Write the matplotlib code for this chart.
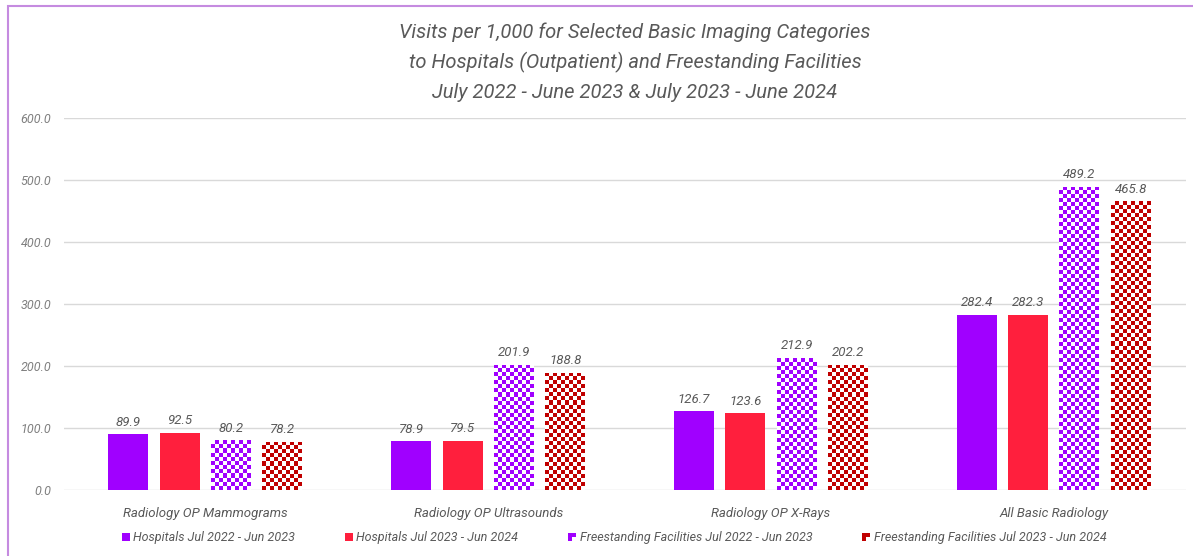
import numpy as np
import matplotlib
matplotlib.use('Agg')
import matplotlib.pyplot as plt
from matplotlib.patches import Rectangle
from matplotlib.legend_handler import HandlerBase

categories = ['Radiology OP Mammograms', 'Radiology OP Ultrasounds',
              'Radiology OP X-Rays', 'All Basic Radiology']
hosp_2223 = [89.9, 78.9, 126.7, 282.4]
hosp_2324 = [92.5, 79.5, 123.6, 282.3]
free_2223 = [80.2, 201.9, 212.9, 489.2]
free_2324 = [78.2, 188.8, 202.2, 465.8]
series_names = ['Hospitals Jul 2022 - Jun 2023', 'Hospitals Jul 2023 - Jun 2024',
                'Freestanding Facilities Jul 2022 - Jun 2023',
                'Freestanding Facilities Jul 2023 - Jun 2024']

PURPLE = '#A000FF'
RED = '#FF1F3D'
DARKRED = '#C00000'
GRAY = '#595959'

plt.rcParams['font.family'] = ['Roboto', 'DejaVu Sans']

W, H = 1193, 556
fig = plt.figure(figsize=(W / 100, H / 100), dpi=100)
ax_l, ax_r = 64, 1186
ax = fig.add_axes([ax_l / W, 1 - 490 / H, (ax_r - ax_l) / W, 372 / H])
group_px = 282.8
xmax = -0.5 + (ax_r - ax_l) / group_px
ax.set_xlim(-0.5, xmax)
ax.set_ylim(0, 600)

px_x = group_px          # pixels per x unit
px_y = 372 / 600.0       # pixels per y unit
step = 51.3 / group_px
width = 40 / group_px
x = np.arange(len(categories))


def checker(bars, color):
    # fill each bar with a clipped checkerboard image (~4px squares)
    for b in bars:
        x0, w, h = b.get_x(), b.get_width(), b.get_height()
        nx = max(1, int(round(w * px_x / 4)))
        ny = max(1, int(round(h * px_y / 4)))
        grid = (np.add.outer(np.arange(ny), np.arange(nx)) % 2)
        rgb = np.array(matplotlib.colors.to_rgb(color))
        img = np.ones((ny, nx, 3))
        img[grid == 0] = rgb
        im = ax.imshow(img, extent=(x0, x0 + w, 0, h), origin='lower',
                       interpolation='nearest', aspect='auto', zorder=3)
        im.set_clip_path(b)


data = [hosp_2223, hosp_2324, free_2223, free_2324]
colors = [PURPLE, RED, PURPLE, DARKRED]
handles = []
for i, vals in enumerate(data):
    pos = x + (i - 1.5) * step
    if i < 2:
        bars = ax.bar(pos, vals, width, color=colors[i], zorder=3)
    else:
        bars = ax.bar(pos, vals, width, color='white', zorder=2)
        checker(bars, colors[i])
    handles.append(bars)
    for b, v in zip(bars, vals):
        ax.text(b.get_x() + b.get_width() / 2, v + 9, f'{v:.1f}', ha='center',
                va='bottom', fontsize=9.5, color=GRAY, style='italic')

ax.set_aspect('auto')
ax.set_xlim(-0.5, xmax)
ax.set_ylim(0, 600)

for s in ax.spines.values():
    s.set_visible(False)
ax.set_yticks(np.arange(0, 601, 100))
ax.set_yticklabels([f'{v:.1f}' for v in np.arange(0, 601, 100)],
                   fontsize=9, color='#7F7F7F', style='italic')
ax.yaxis.grid(True, color='#D9D9D9', linewidth=1)
ax.set_axisbelow(True)
ax.tick_params(axis='y', length=0, pad=9)
ax.set_xticks(x)
ax.set_xticklabels(categories, fontsize=9.5, color=GRAY, style='italic')
ax.tick_params(axis='x', length=0, pad=12)


class CheckerHandler(HandlerBase):
    def __init__(self, color):
        super().__init__()
        self.color = color

    def create_artists(self, legend, orig_handle, xdescent, ydescent,
                       width, height, fontsize, trans):
        s = height * 0.45
        x0 = width - 2 * s
        y0 = (height - 2 * s) / 2
        arts = []
        for (i, j) in [(0, 0), (1, 1), (0, 1)]:
            arts.append(Rectangle((x0 + i * s, y0 + j * s), s, s,
                                  facecolor=self.color, edgecolor='none',
                                  transform=trans))
        return arts


class SquareHandler(HandlerBase):
    def __init__(self, color):
        super().__init__()
        self.color = color

    def create_artists(self, legend, orig_handle, xdescent, ydescent,
                       width, height, fontsize, trans):
        s = height * 0.9
        return [Rectangle((width - s, (height - s) / 2), s, s,
                          facecolor=self.color, edgecolor='none', transform=trans)]


hmap = {handles[0]: SquareHandler(PURPLE), handles[1]: SquareHandler(RED),
        handles[2]: CheckerHandler(PURPLE), handles[3]: CheckerHandler(DARKRED)}
leg = fig.legend(handles, series_names, loc='center', ncol=4,
                 bbox_to_anchor=(613 / W, 1 - 538 / H), frameon=False,
                 handler_map=hmap, handlelength=0.8, handletextpad=0.3,
                 columnspacing=3.8, prop={'size': 9, 'style': 'italic'})
for t in leg.get_texts():
    t.set_color(GRAY)

fig.text(635 / W, 1 - 62 / H,
         'Visits per 1,000 for Selected Basic Imaging Categories\n'
         'to Hospitals (Outpatient) and Freestanding Facilities\n'
         'July 2022 - June 2023 & July 2023 - June 2024',
         ha='center', va='center', fontsize=14.5, color=GRAY, style='italic',
         linespacing=1.62)

fig.patches.append(Rectangle((8 / W, -0.02), 1.1, 1 - 6 / H + 0.02,
                             transform=fig.transFigure, fill=False,
                             edgecolor='#C58BE0', linewidth=1.5))

fig.savefig('out.png', dpi=100)
